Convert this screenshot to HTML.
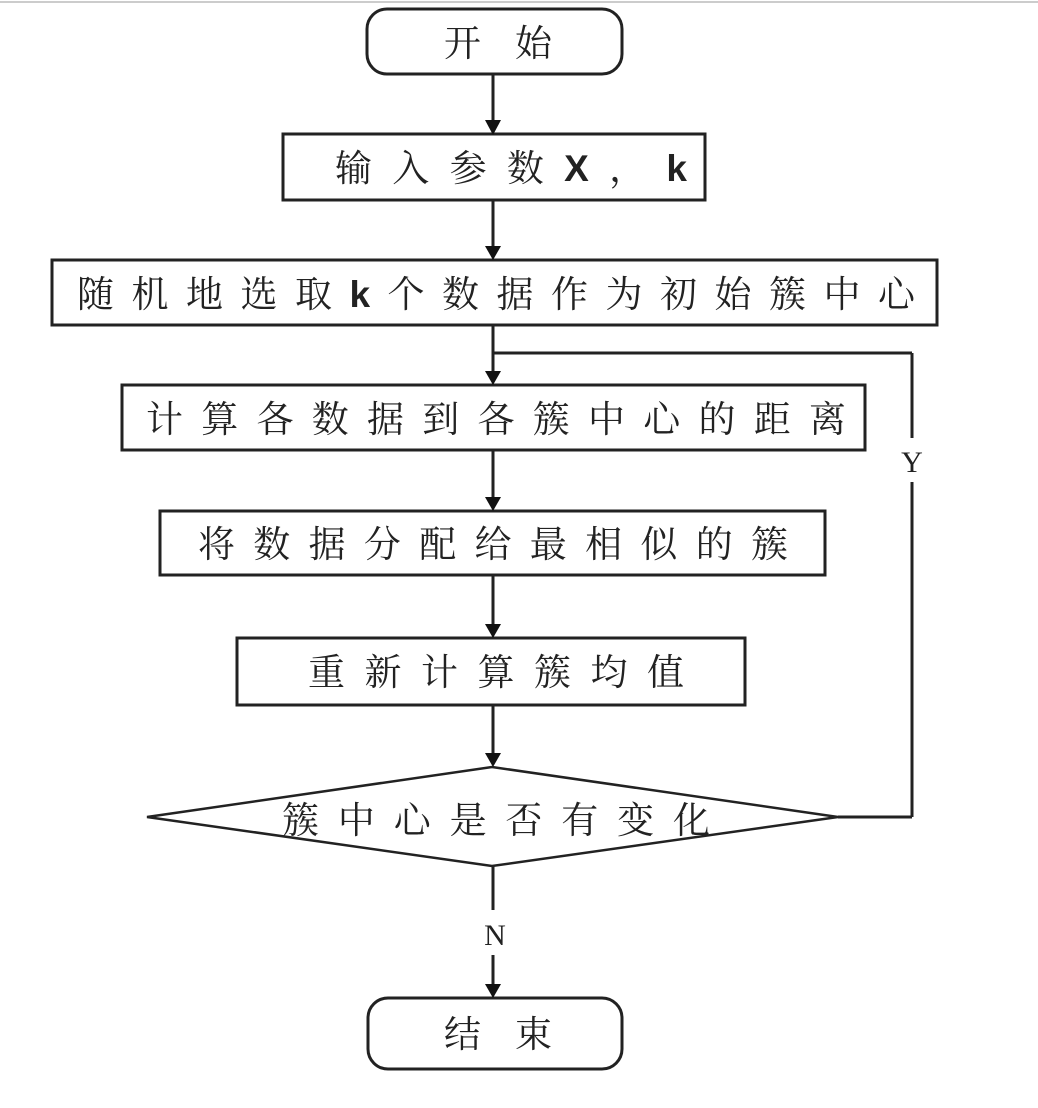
<!DOCTYPE html>
<html><head><meta charset="utf-8"><style>
html,body{margin:0;padding:0;background:#fff;}
svg{display:block;}
text{font-family:"Liberation Serif","Noto Serif CJK SC",serif;fill:#222;}
</style></head><body>
<svg width="1038" height="1108" viewBox="0 0 1038 1108" xmlns="http://www.w3.org/2000/svg">
<defs><marker id="a" markerWidth="12" markerHeight="12" refX="10" refY="6" orient="auto" markerUnits="userSpaceOnUse"><path d="M0,0 L12,6 L0,12 Z" fill="#111" transform="rotate(0)"/></marker></defs>
<line x1="0" y1="2" x2="1038" y2="2" stroke="#ccc" stroke-width="2"/>
<g stroke="#222" stroke-width="3" fill="none">
<rect x="367" y="9" width="255" height="65" rx="20"/>
<rect x="283" y="134" width="422" height="66"/>
<rect x="52" y="260" width="885" height="65"/>
<rect x="122" y="385" width="743" height="65"/>
<rect x="160" y="511" width="665" height="64"/>
<rect x="237" y="638" width="508" height="67"/>
<polygon points="492,767 838,817 492,866 147,817" stroke-width="2.5"/>
<rect x="368" y="998" width="254" height="71" rx="20"/>
<line x1="493" y1="74" x2="493" y2="122"/>
<line x1="493" y1="200" x2="493" y2="248"/>
<line x1="493" y1="325" x2="493" y2="373"/>
<line x1="493" y1="353" x2="912" y2="353"/>
<line x1="912" y1="353" x2="912" y2="438"/>
<line x1="912" y1="482" x2="912" y2="817"/>
<line x1="838" y1="817" x2="912" y2="817"/>
<line x1="493" y1="450" x2="493" y2="499"/>
<line x1="493" y1="575" x2="493" y2="626"/>
<line x1="493" y1="705" x2="493" y2="755"/>
<line x1="493" y1="866" x2="493" y2="910"/>
<line x1="493" y1="955" x2="493" y2="986"/>
</g>
<g fill="#111">
<path d="M485,120 L501,120 L493,135 Z"/>
<path d="M485,246 L501,246 L493,260 Z"/>
<path d="M485,371 L501,371 L493,385 Z"/>
<path d="M485,497 L501,497 L493,511 Z"/>
<path d="M485,624 L501,624 L493,638 Z"/>
<path d="M485,753 L501,753 L493,767 Z"/>
<path d="M485,984 L501,984 L493,998 Z"/>
</g>
<g font-size="37">
<text x="444" y="56" textLength="108" lengthAdjust="spacing">开始</text>
<text x="335" y="181" textLength="352" lengthAdjust="spacing">输入参数<tspan font-family="Liberation Sans" font-weight="bold">X</tspan>，<tspan font-family="Liberation Sans" font-weight="bold">k</tspan></text>
<text x="77" y="307" textLength="838" lengthAdjust="spacing">随机地选取<tspan font-family="Liberation Sans" font-weight="bold">k</tspan>个数据作为初始簇中心</text>
<text x="146" y="432" textLength="700" lengthAdjust="spacing">计算各数据到各簇中心的距离</text>
<text x="198" y="557" textLength="590" lengthAdjust="spacing">将数据分配给最相似的簇</text>
<text x="308" y="685" textLength="376" lengthAdjust="spacing">重新计算簇均值</text>
<text x="282" y="833" textLength="428" lengthAdjust="spacing">簇中心是否有变化</text>
<text x="444" y="1047" textLength="108" lengthAdjust="spacing">结束</text>
</g>
<text x="912" y="472" font-size="30" text-anchor="middle">Y</text>
<text x="495" y="945" font-size="30" text-anchor="middle">N</text>
</svg>
</body></html>
